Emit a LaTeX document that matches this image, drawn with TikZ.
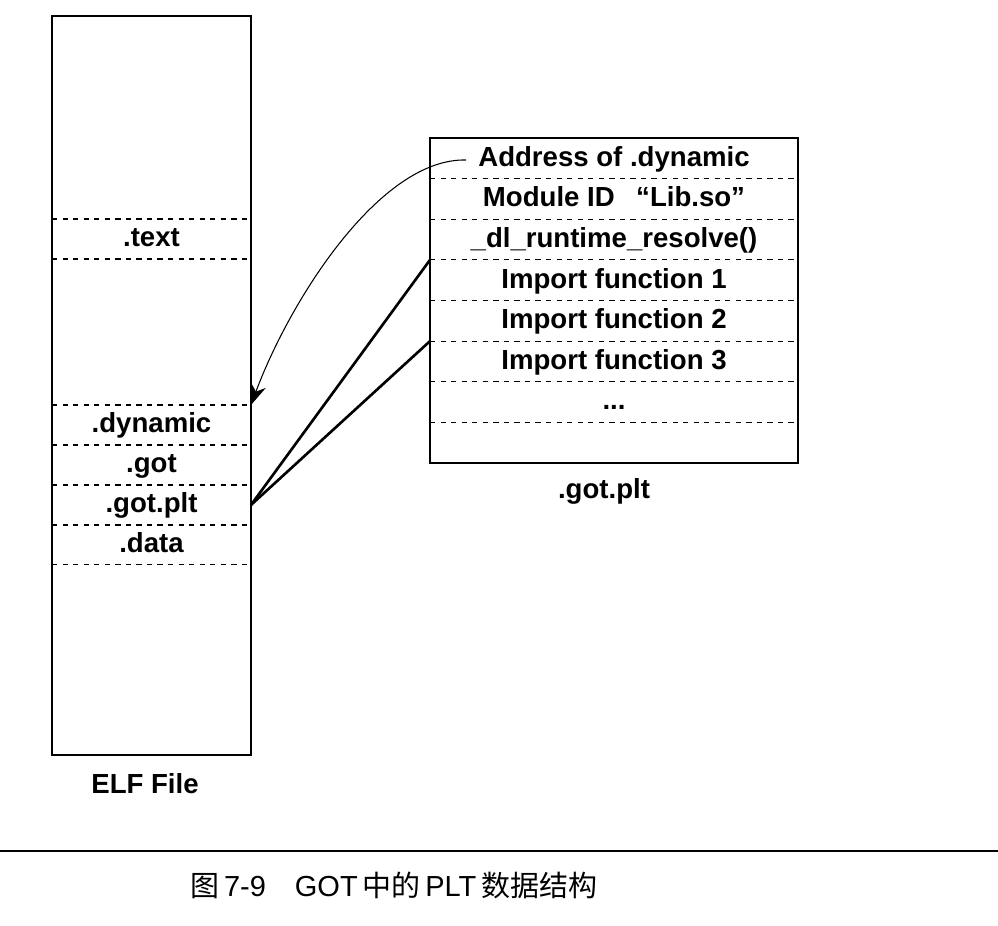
\documentclass[tikz,border=0pt]{standalone}
\usepackage{fontspec}
\setmainfont{Liberation Sans}
\newfontfamily\cjk{Noto Sans CJK SC}
\usetikzlibrary{arrows.meta,positioning}
\tikzset{
  lbl/.style={font=\fontsize{15.7}{18}\selectfont\bfseries,text height=11.5pt,text depth=2.5pt},
  sect/.style={lbl,minimum width=3.98cm,minimum height=0.8cm,inner sep=0pt,outer sep=0pt},
  slot/.style={lbl,minimum width=7.36cm,minimum height=0.8125cm,inner sep=0pt,outer sep=0pt},
  sep/.style={dashed,line width=0.6pt},
  frame/.style={line width=1.1pt},
  ptr/.style={line width=1.5pt}
}
\begin{document}
\begin{tikzpicture}[x=0.02cm,y=-0.02cm]
	\useasboundingbox (0,0) rectangle (998,926);
	
	% ELF File
	\draw[frame] (52,16) rectangle (251,755);
	\node[sect] (text) at (151.5,239) {.text};
	\node[sect,anchor=north] (dynamic) at (151.5,405) {.dynamic};
	\node[sect,below=0pt of dynamic] (got) {.got};
	\node[sect,below=0pt of got] (gotplt) {.got.plt};
	\node[sect,below=0pt of gotplt] (data) {.data};
	\foreach \s in {text,dynamic,got,gotplt,data}
	\draw[sep] (\s.north west) -- (\s.north east);
	\draw[sep] (text.south west) -- (text.south east);
	\draw[sep] (data.south west) -- (data.south east);
	\node[lbl] (elfname) at (145,786) {ELF File};
	
	% .got.plt
	\node[slot,anchor=north] (addr) at (614,138) {Address of .dynamic};
	\node[slot,below=0pt of addr] (modid) {Module ID \enspace“Lib.so”};
	\node[slot,below=0pt of modid] (resolve) {\_dl\_runtime\_resolve()};
	\node[slot,below=0pt of resolve] (imp1) {Import function 1};
	\node[slot,below=0pt of imp1] (imp2) {Import function 2};
	\node[slot,below=0pt of imp2] (imp3) {Import function 3};
	\node[slot,below=0pt of imp3] (more) {...};
	\node[slot,below=0pt of more] (spare) {};
	\foreach \s in {modid,resolve,imp1,imp2,imp3,more,spare}
	\draw[sep] (\s.north west) -- (\s.north east);
	\draw[frame] (addr.north west) rectangle (spare.south east);
	\node[lbl] (gotname) at (604,491) {.got.plt};
	
	% Pointers
	\coordinate (addrtip) at (466,160);
	\draw[line width=0.6pt,-{Stealth[length=12pt,width=9pt]}] (addrtip) .. controls (380,158) and (290,300) .. (dynamic.north east);
	\draw[ptr] (gotplt.east) -- (imp1.north west);
	\draw[ptr] (gotplt.east) -- (imp3.north west);
	
	% Caption
	\draw[line width=0.8pt] (0,851) -- (998,851);
	\node[anchor=west,font=\fontsize{16.5}{19}\selectfont] (caption) at (184,885) {{\cjk 图}\,7-9\quad GOT\,{\cjk 中的}\,PLT\,{\cjk 数据结构}};
\end{tikzpicture}
\end{document}
